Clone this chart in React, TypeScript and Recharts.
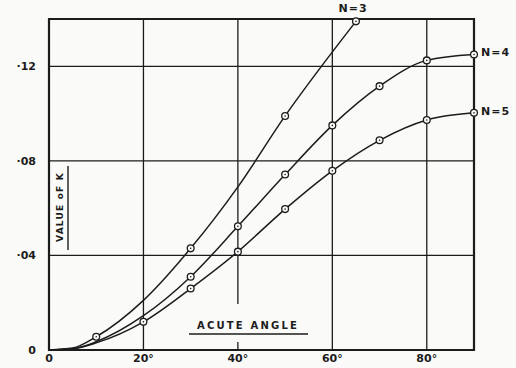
import React from 'react';
import {
  LineChart,
  Line,
  XAxis,
  YAxis,
  CartesianGrid,
  ReferenceArea,
  Customized,
} from 'recharts';

// angles (degrees) and K values
const n3Angles = [0, 5, 10, 20, 30, 40, 50, 65];
const n3Values = [0, 0.0008, 0.0056, 0.021, 0.043, 0.069, 0.099, 0.139];
const n3Marked = [false, false, true, false, true, false, true, true];

const n4Angles = [0, 5, 10, 20, 30, 40, 50, 60, 70, 80, 90];
const n4Values = [0, 0.0005, 0.0035, 0.0145, 0.031, 0.0523, 0.0742, 0.095, 0.1116, 0.1225, 0.125];
const n4Marked = [false, false, false, false, true, true, true, true, true, true, true];

const n5Angles = [0, 5, 10, 20, 30, 40, 50, 60, 70, 80, 90];
const n5Values = [0, 0.0005, 0.003, 0.0119, 0.026, 0.0416, 0.0596, 0.0758, 0.0887, 0.0973, 0.1003];
const n5Marked = [false, false, false, true, true, true, true, true, true, true, true];

const xTicks = [0, 20, 40, 60, 80];
const yTicks = [0, 0.04, 0.08, 0.12];

const INK = '#1c1c1c';
const PAPER = '#fafaf8';
const FONT = '"DejaVu Sans", sans-serif';

const toRows = (angles: number[], values: number[], marked: boolean[]) =>
  angles.map((a, i) => ({ angle: a, k: values[i], marked: marked[i] }));

const n3Data = toRows(n3Angles, n3Values, n3Marked);
const n4Data = toRows(n4Angles, n4Values, n4Marked);
const n5Data = toRows(n5Angles, n5Values, n5Marked);

const Dot = (props: any) => {
  const { cx, cy, payload, index } = props;
  if (!payload || !payload.marked) return <g key={index} />;
  return (
    <g key={index}>
      <circle cx={cx} cy={cy} r={3.4} fill={PAPER} stroke={INK} strokeWidth={1.3} />
      <circle cx={cx} cy={cy} r={0.8} fill={INK} />
    </g>
  );
};

const fmtY = (v: number) => (v === 0 ? '0' : '·' + String(Math.round(v * 100)).padStart(2, '0'));
const fmtX = (v: number) => (v === 0 ? '0' : `${v}°`);

// hand-lettered captions; the x caption sits on a blank patch that breaks the 40° rule
const Annotations = () => (
  <g fontFamily={FONT} fontWeight="bold" fill={INK}>
    <rect x={186} y={304} width={126} height={38} fill={PAPER} />
    <text x={353} y={12} fontSize={11} textAnchor="middle" letterSpacing={1}>N=3</text>
    <text x={481} y={56} fontSize={11} letterSpacing={1}>N=4</text>
    <text x={481} y={115} fontSize={11} letterSpacing={1}>N=5</text>
    <text x={248} y={329} fontSize={10} textAnchor="middle" letterSpacing={2.2}>ACUTE ANGLE</text>
    <line x1={189} x2={308} y1={334} y2={334} stroke={INK} strokeWidth={1.6} />
    <text
      x={63}
      y={207}
      fontSize={9}
      textAnchor="middle"
      letterSpacing={1.2}
      transform="rotate(-90 63 207)"
    >
      VALUE oF K
    </text>
    <line x1={68} x2={68} y1={166} y2={250} stroke={INK} strokeWidth={1.4} />
  </g>
);

export default function App() {
  return (
    <div style={{ position: 'absolute', left: 0, top: 0, width: 516, height: 368, background: PAPER }}>
      <LineChart width={516} height={368} margin={{ top: 19, right: 42, bottom: 0, left: 9 }}>
        <CartesianGrid stroke={INK} strokeWidth={1.3} />
        <XAxis
          type="number"
          dataKey="angle"
          domain={[0, 90]}
          ticks={xTicks}
          tickFormatter={fmtX}
          axisLine={false}
          tickLine={false}
          tickSize={0}
          tickMargin={4}
          height={18}
          allowDuplicatedCategory={false}
          tick={{ fontSize: 11, fill: INK, fontFamily: FONT, fontWeight: 'bold' }}
        />
        <YAxis
          type="number"
          dataKey="k"
          domain={[0, 0.14]}
          ticks={yTicks}
          tickFormatter={fmtY}
          axisLine={false}
          tickLine={false}
          tickSize={6}
          tickMargin={7}
          width={40}
          tick={{ fontSize: 11, fill: INK, fontFamily: FONT, fontWeight: 'bold' }}
        />
        <Customized component={Annotations} />
        <ReferenceArea x1={0} x2={90} y1={0} y2={0.14} fill="none" stroke={INK} strokeWidth={2.2} />
        <Line
          data={n3Data}
          dataKey="k"
          type="monotone"
          stroke={INK}
          strokeWidth={1.5}
          dot={<Dot />}
          activeDot={false}
          isAnimationActive={false}
        />
        <Line
          data={n4Data}
          dataKey="k"
          type="monotone"
          stroke={INK}
          strokeWidth={1.5}
          dot={<Dot />}
          activeDot={false}
          isAnimationActive={false}
        />
        <Line
          data={n5Data}
          dataKey="k"
          type="monotone"
          stroke={INK}
          strokeWidth={1.5}
          dot={<Dot />}
          activeDot={false}
          isAnimationActive={false}
        />
      </LineChart>
    </div>
  );
}
